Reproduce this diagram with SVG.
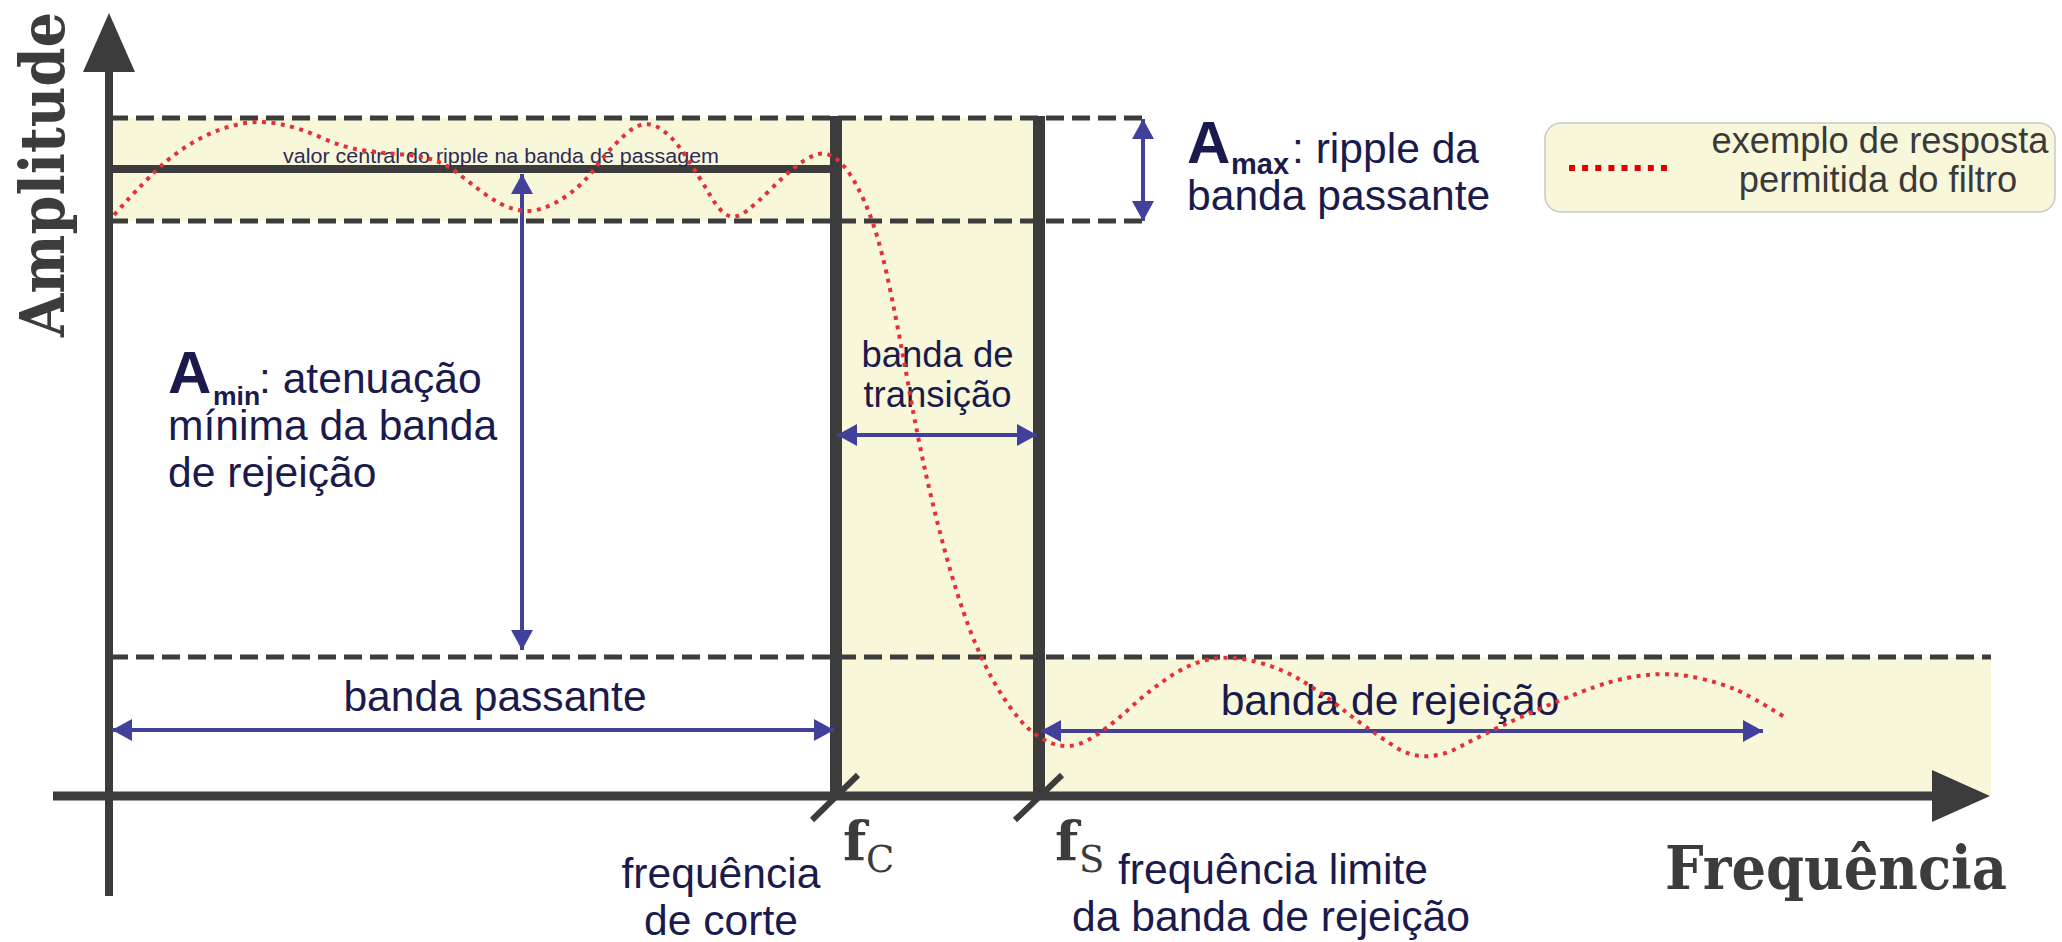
<svg xmlns="http://www.w3.org/2000/svg" width="2062" height="942" viewBox="0 0 2062 942">
<style>
.band{fill:#f9f7da}
.dash{stroke:#3c3c3c;stroke-width:5;stroke-dasharray:18 8;fill:none}
.bar{stroke:#3c3c3c;fill:none;stroke-linecap:butt}
.arr{stroke:#41419b;stroke-width:4;fill:none;marker-start:url(#ah);marker-end:url(#ah)}
.lbl{font-family:"Liberation Sans",Arial,sans-serif;font-size:42.6px;fill:#1b1a4d}
.b{font-weight:bold}
.serif{font-family:"DejaVu Serif",serif;font-weight:bold;fill:#3c3c3c}
.sub{font-weight:normal}
.curve{stroke:#e5303a;stroke-width:4;stroke-dasharray:4 5.5;fill:none}
</style>
<defs>
<marker id="ah" viewBox="0 0 20 22" refX="20" refY="11" markerWidth="20" markerHeight="22" markerUnits="userSpaceOnUse" orient="auto-start-reverse">
<path d="M0,0 L20,11 L0,22 z" fill="#41419b"/>
</marker>
</defs>
<rect width="2062" height="942" fill="#ffffff"/>
<g id="bands">
<rect class="band" x="110" y="118" width="725" height="103"/>
<rect class="band" x="835" y="118" width="204" height="678"/>
<rect class="band" x="1039" y="657" width="952" height="139"/>
</g>
<g id="limits">
<line class="dash" x1="110" y1="118" x2="1145" y2="118"/>
<line class="dash" x1="110" y1="221" x2="1145" y2="221"/>
<line class="dash" x1="110" y1="657" x2="1991" y2="657"/>
<line class="bar" x1="110" y1="169" x2="836" y2="169" stroke-width="8"/>
</g>
<g id="labels">
<text id="valor-central" x="283" y="163" font-family="Liberation Sans, Arial, sans-serif" font-size="20.5" fill="#2b2b55" textLength="436" lengthAdjust="spacingAndGlyphs">valor central do ripple na banda de passagem</text>
<g id="amin-label">
<text class="lbl" x="168" y="393"><tspan class="b" font-size="60">A</tspan><tspan class="b" x="213" y="405" font-size="26.5">min</tspan><tspan x="259" y="393">: atenuação</tspan></text>
<text class="lbl" x="168" y="440">mínima da banda</text>
<text class="lbl" x="168" y="487">de rejeição</text>
</g>
<g id="amax-label">
<text class="lbl" x="1187" y="163"><tspan class="b" font-size="60">A</tspan><tspan class="b" x="1231" y="174" font-size="29">max</tspan><tspan x="1292" y="163">: ripple da</tspan></text>
<text class="lbl" x="1187" y="210">banda passante</text>
</g>
<g id="transicao-label">
<text x="937.5" y="367" text-anchor="middle" font-family="Liberation Sans, Arial, sans-serif" font-size="36.5" fill="#1b1a4d">banda de</text>
<text x="937.5" y="407" text-anchor="middle" font-family="Liberation Sans, Arial, sans-serif" font-size="36.5" fill="#1b1a4d">transição</text>
</g>
<text id="passante-label" class="lbl" x="495" y="711" text-anchor="middle">banda passante</text>
<text id="rejeicao-label" class="lbl" x="1390" y="715" text-anchor="middle">banda de rejeição</text>
<g id="fc-desc">
<text class="lbl" x="721" y="888" text-anchor="middle">frequência</text>
<text class="lbl" x="721" y="935" text-anchor="middle">de corte</text>
</g>
<g id="fs-desc">
<text class="lbl" x="1273" y="884" text-anchor="middle">frequência limite</text>
<text class="lbl" x="1271" y="931" text-anchor="middle">da banda de rejeição</text>
</g>
</g>
<g id="edges">
<line class="bar" x1="836" y1="116" x2="836" y2="796" stroke-width="12"/>
<line class="bar" x1="1039" y1="116" x2="1039" y2="796" stroke-width="12"/>
<line class="bar" x1="858" y1="775" x2="812" y2="820" stroke-width="6"/>
<line class="bar" x1="1062" y1="775" x2="1015" y2="820" stroke-width="6"/>
</g>
<g id="axes">
<line class="bar" x1="109" y1="60" x2="109" y2="896" stroke-width="8"/>
<path d="M109,13 L135,72 L83,72 z" fill="#3c3c3c"/>
<line class="bar" x1="53" y1="796" x2="1945" y2="796" stroke-width="9"/>
<path d="M1990,796 L1932,822 L1932,770 z" fill="#3c3c3c"/>
<text id="amplitude" class="serif" font-size="62" transform="translate(64,337) rotate(-90)" textLength="325" lengthAdjust="spacingAndGlyphs">Amplitude</text>
<text id="frequencia" class="serif" x="1665" y="889" font-size="59" textLength="342" lengthAdjust="spacingAndGlyphs">Frequência</text>
<text id="fc" class="serif" x="843" y="860" font-size="54">f<tspan class="sub" x="866" y="872" font-size="37">C</tspan></text>
<text id="fs" class="serif" x="1055" y="860" font-size="54">f<tspan class="sub" x="1079" y="872" font-size="37">S</tspan></text>
</g>
<g id="connectors">
<line class="arr" x1="522" y1="174" x2="522" y2="650"/>
<line class="arr" x1="1143" y1="119" x2="1143" y2="221"/>
<line class="arr" x1="837" y1="435" x2="1037" y2="435"/>
<line class="arr" x1="112" y1="730" x2="834" y2="730"/>
<line class="arr" x1="1041" y1="731" x2="1763" y2="731"/>
</g>
<path id="response" class="curve" d="M114,215 Q148,177 165,162.5 Q182,148 201,138 Q220,128 240,124 Q260,120 280,124 Q300,128 321,137.5 Q342,147 361,150 Q380,153 397.5,154 Q415,155 430,159 Q445,163 457.5,173 Q470,183 485,194 Q500,205 514,209 Q528,213 542,208.5 Q556,204 570.5,193 Q585,182 597.5,165 Q610,148 626.5,133.5 Q643,119 657.5,127 Q672,135 686,156.5 Q700,178 710,195 Q720,212 728,215.5 Q736,219 746.5,211 Q757,203 770,190 Q783,177 794,168 Q805,159 815,155 Q825,151 835,158 Q845,165 855,182.5 Q865,200 873.5,225 Q882,250 891,294 Q900,338 908.5,386 Q917,434 926,474.5 Q935,515 946,555 Q957,595 968.5,626 Q980,657 993.5,681 Q1007,705 1021,721 Q1035,737 1052.5,743.5 Q1070,750 1088,740 Q1106,730 1129.5,708.5 Q1153,687 1174,674 Q1195,661 1214.5,658.5 Q1234,656 1257,662 Q1280,668 1299,679 Q1318,690 1341.5,708.5 Q1365,727 1394.5,746.5 Q1424,766 1460.5,746.5 Q1497,727 1540.5,708.5 Q1584,690 1607,683 Q1630,676 1653,674.5 Q1676,673 1698,678 Q1720,683 1734.5,689 Q1749,695 1786,718"/>
<g id="legend">
<rect x="1545" y="123" width="510" height="89" rx="16" fill="#f9f7da" stroke="#c8c8c8" stroke-width="1.5"/>
<line x1="1569" y1="168" x2="1667" y2="168" stroke="#e00000" stroke-width="6" stroke-dasharray="6 7.14"/>
<text x="1880" y="153" text-anchor="middle" font-family="Liberation Sans, Arial, sans-serif" font-size="36.3" fill="#3a3a3a">exemplo de resposta</text>
<text x="1878" y="192" text-anchor="middle" font-family="Liberation Sans, Arial, sans-serif" font-size="36.3" fill="#3a3a3a">permitida do filtro</text>
</g>
</svg>
